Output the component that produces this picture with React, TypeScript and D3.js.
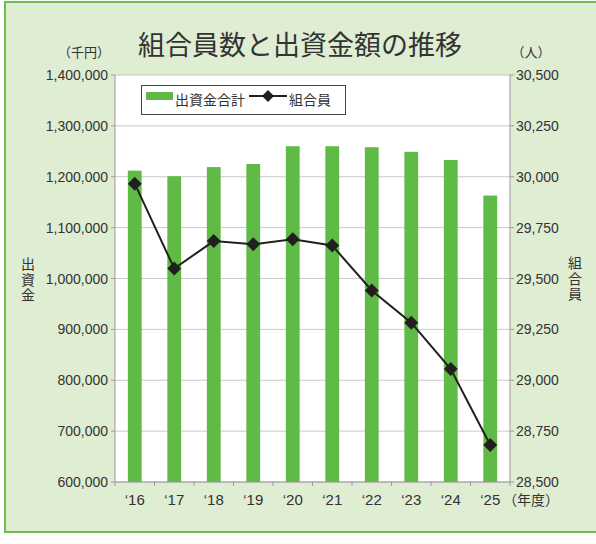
import React from "react";
import * as d3 from "d3";

const years = ["16", "17", "18", "19", "20", "21", "22", "23", "24", "25"];
const capital = [1212000, 1201000, 1219000, 1225000, 1260000, 1260000, 1258000, 1249000, 1233000, 1163000];
const members = [29966, 29549, 29684, 29668, 29693, 29662, 29441, 29283, 29055, 28682];
const leftTicks = [600000, 700000, 800000, 900000, 1000000, 1100000, 1200000, 1300000, 1400000];
const rightTicks = [28500, 28750, 29000, 29250, 29500, 29750, 30000, 30250, 30500];

const W = 596, H = 544;
const M = { left: 115, right: 510, top: 75, bottom: 482 };
const JP = "'Noto Sans CJK JP', sans-serif";
const NUM = "'Liberation Sans', Arial, sans-serif";
const TXT = "#333";

export default function App() {
  const x = d3.scaleBand<string>().domain(years).range([M.left, M.right]).paddingInner(0.65).paddingOuter(0.325);
  const band = d3.scaleBand<string>().domain(years).range([M.left, M.right]);
  const yL = d3.scaleLinear().domain([600000, 1400000]).range([M.bottom, M.top]);
  const yR = d3.scaleLinear().domain([28500, 30500]).range([M.bottom, M.top]);
  const fmt = d3.format(",");
  const line = d3.line<number>()
    .x((_, i) => (band(years[i]) as number) + band.bandwidth() / 2)
    .y((d) => yR(d));
  const diamond = (cx: number, cy: number, r: number) =>
    `M${cx},${cy - r}L${cx + r},${cy}L${cx},${cy + r}L${cx - r},${cy}Z`;

  return (
    <svg width={W} height={H} style={{ position: "absolute", left: 0, top: 0, background: "#fff" }}>
      <rect x={5} y={2} width={620} height={530} fill="#dfedd3" stroke="#6cbf4c" strokeWidth={2} />
      <text x={300} y={55} textAnchor="middle" fontFamily={JP} fontSize={27} fill={TXT}>組合員数と出資金額の推移</text>
      <text x={84} y={57} textAnchor="middle" fontFamily={JP} fontSize={13} fill={TXT}>（千円）</text>
      <text x={531} y={57} textAnchor="middle" fontFamily={JP} fontSize={13} fill={TXT}>（人）</text>

      <rect x={M.left} y={M.top} width={M.right - M.left} height={M.bottom - M.top} fill="#fff" />
      {leftTicks.map((t) => (
        <line key={"g" + t} x1={M.left} x2={M.right} y1={yL(t)} y2={yL(t)} stroke="#c9c9c9" strokeWidth={1} />
      ))}
      {years.map((y, i) => (
        <rect key={"b" + y} x={x(y)} y={yL(capital[i])} width={x.bandwidth()} height={M.bottom - yL(capital[i])} fill="#5fba46" />
      ))}
      <line x1={M.left} x2={M.left} y1={M.top} y2={M.bottom} stroke="#9a9a9a" />
      <line x1={M.right} x2={M.right} y1={M.top} y2={M.bottom} stroke="#9a9a9a" />
      <line x1={M.left} x2={M.right} y1={M.bottom} y2={M.bottom} stroke="#9a9a9a" />

      {leftTicks.map((t) => (
        <g key={"l" + t}>
          <line x1={M.left - 4} x2={M.left} y1={yL(t)} y2={yL(t)} stroke="#9a9a9a" />
          <text x={M.left - 7} y={yL(t) + 5} textAnchor="end" fontFamily={NUM} fontSize={14} fill={TXT}>{fmt(t)}</text>
        </g>
      ))}
      {rightTicks.map((t) => (
        <g key={"r" + t}>
          <line x1={M.right} x2={M.right + 4} y1={yR(t)} y2={yR(t)} stroke="#9a9a9a" />
          <text x={M.right + 6} y={yR(t) + 5} textAnchor="start" fontFamily={NUM} fontSize={14} fill={TXT}>{fmt(t)}</text>
        </g>
      ))}
      {years.map((y) => (
        <line key={"xt" + y} x1={band(y) as number} x2={band(y) as number} y1={M.bottom} y2={M.bottom + 4} stroke="#9a9a9a" />
      ))}
      <line x1={M.right} x2={M.right} y1={M.bottom} y2={M.bottom + 4} stroke="#9a9a9a" />
      {years.map((y) => (
        <text key={"xl" + y} x={(band(y) as number) + band.bandwidth() / 2} y={505} textAnchor="middle" fontFamily={NUM} fontSize={15} fill={TXT}>{"\u2018" + y}</text>
      ))}
      <text x={531} y={505} textAnchor="middle" fontFamily={JP} fontSize={14} fill={TXT}>（年度）</text>

      <text x={28} y={257} style={{ writingMode: "vertical-rl" }} fontFamily={JP} fontSize={14} letterSpacing={1.5} fill={TXT}>出資金</text>
      <text x={575} y={256} style={{ writingMode: "vertical-rl" }} fontFamily={JP} fontSize={14} letterSpacing={1.5} fill={TXT}>組合員</text>

      <path d={line(members) || ""} fill="none" stroke="#231f20" strokeWidth={2} />
      {members.map((m, i) => (
        <path key={"d" + i} d={diamond((band(years[i]) as number) + band.bandwidth() / 2, yR(m), 7)} fill="#231f20" />
      ))}

      <rect x={141.5} y={85.5} width={204} height={29} fill="#fff" stroke="#444" strokeWidth={1} />
      <rect x={146} y={92} width={27} height={8} fill="#5fba46" />
      <text x={175} y={105} fontFamily={JP} fontSize={14} fill={TXT}>出資金合計</text>
      <line x1={249} x2={287} y1={96} y2={96} stroke="#231f20" strokeWidth={2} />
      <path d={diamond(268, 96, 6)} fill="#231f20" />
      <text x={289} y={105} fontFamily={JP} fontSize={14} fill={TXT}>組合員</text>
    </svg>
  );
}
